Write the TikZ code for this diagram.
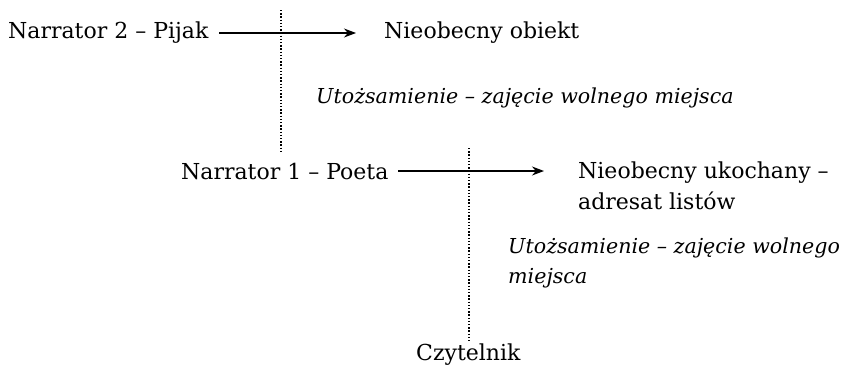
\documentclass[tikz,border=0pt]{standalone}
\usepackage{fontspec}
\setmainfont{DejaVu Serif}
\usetikzlibrary{arrows.meta}
\begin{document}
\begin{tikzpicture}[x=1pt,y=-1pt,
  lbl/.style={anchor=west,inner sep=0pt,font=\fontsize{22}{30.5}\selectfont},
  itl/.style={lbl,font=\fontsize{20.6}{30.5}\selectfont\itshape},
  link/.style={-{Stealth[length=12pt,width=9pt]},line width=1.2pt},
  guide/.style={line width=1.2pt,dash pattern=on 1.4pt off 1.8pt}]
\useasboundingbox (0,0) rectangle (846,370);
% upper level
\node[lbl] (n2) at (8,33) {Narrator 2 – Pijak};
\node[lbl] (o1) at (384,33) {Nieobecny obiekt};
\coordinate (a1s) at (219,33);
\coordinate (a1e) at (356,33);
\draw[link] (a1s) -- (a1e);
\coordinate (d1t) at (281,10);
\coordinate (d1b) at (281,153);
\draw[guide] (d1t) -- (d1b);
\node[itl] (u1) at (316,98) {Utożsamienie – zajęcie wolnego miejsca};
% lower level
\node[lbl] (n1) at (181,171) {Narrator 1 – Poeta};
\node[lbl,align=left] (o2) at (578,186) {Nieobecny ukochany –\\adresat listów};
\coordinate (a2s) at (398,171);
\coordinate (a2e) at (544,171);
\draw[link] (a2s) -- (a2e);
\coordinate (d2t) at (469,148);
\coordinate (d2b) at (469,343);
\draw[guide] (d2t) -- (d2b);
\node[itl,align=left] (u2) at (508,263) {Utożsamienie – zajęcie wolnego\\miejsca};
\node[lbl] (cz) at (416,355) {Czytelnik};
\end{tikzpicture}
\end{document}
